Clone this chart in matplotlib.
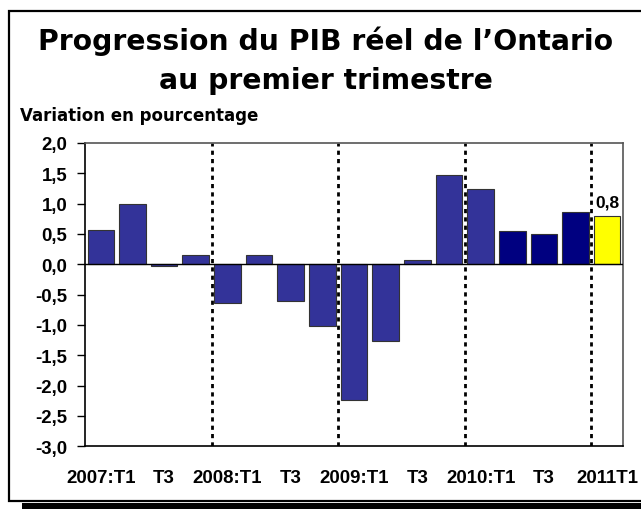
import numpy as np
import matplotlib.pyplot as plt
from matplotlib.patches import Rectangle

# Données (variation en pourcentage, trimestrielle)
trimestres = ['2007:T1', 'T2', 'T3', 'T4', '2008:T1', 'T2', 'T3', 'T4',
              '2009:T1', 'T2', 'T3', 'T4', '2010:T1', 'T2', 'T3', 'T4', '2011T1']
valeurs = [0.57, 0.99, -0.02, 0.15, -0.64, 0.15, -0.61, -1.02,
           -2.23, -1.26, 0.07, 1.48, 1.24, 0.55, 0.50, 0.86, 0.79]
couleurs = ['#333399'] * 13 + ['#000080'] * 3 + ['#FFFF00']
etiquette_finale = '0,8'
separateurs = [3.5, 7.5, 11.5, 15.5]
yticks = np.arange(-3.0, 2.01, 0.5)

police = 'Liberation Sans'
police_titre = 'DejaVu Sans'

fig = plt.figure(figsize=(6.41, 5.10), dpi=100)

# Cadre avec ombre
fig.patches.append(Rectangle((22 / 641, 0), 1, 6 / 510, transform=fig.transFigure,
                             facecolor='black', edgecolor='none', zorder=-2))
fig.patches.append(Rectangle((9 / 641, 8 / 510), 1, 490 / 510, transform=fig.transFigure,
                             facecolor='white', edgecolor='black', linewidth=1.6, zorder=-1))

ax = fig.add_axes([85 / 641, 62.7 / 510, 538 / 641, 303.3 / 510])
x = np.arange(len(valeurs))
ax.bar(x, valeurs, width=0.84, color=couleurs, edgecolor='#333333', linewidth=0.8, zorder=3)
ax.axhline(0, color='black', linewidth=1.0, zorder=4)
for s in separateurs:
    ax.axvline(s, color='black', linestyle=(0, (1.5, 1.5)), linewidth=2.0, zorder=2)

ax.text(x[-1], valeurs[-1] + 0.12, etiquette_finale, ha='center', va='bottom',
        fontsize=12.5, fontweight='bold', family=police)

ax.set_xlim(-0.5, len(valeurs) - 0.5)
ax.set_ylim(-3.0, 2.0)
ax.set_yticks(yticks)
ax.set_yticklabels([f'{v:.1f}'.replace('.', ',') for v in yticks],
                   fontsize=13.4, fontweight='bold', family=police)
ax.set_xticks(x[::2])
ax.set_xticklabels(trimestres[::2], fontsize=13.4, fontweight='bold', family=police)
ax.tick_params(axis='y', direction='out', length=5.8, width=1, pad=7)
ax.tick_params(axis='x', length=0, pad=16)

ax.spines['left'].set_color('black')
ax.spines['bottom'].set_color('black')
ax.spines['top'].set_color('#555555')
ax.spines['right'].set_color('#555555')
for sp in ax.spines.values():
    sp.set_linewidth(1.2)

# Titres
fig.text(326 / 641, 1 - 50 / 510, "Progression du PIB réel de l’Ontario",
         ha='center', va='baseline', fontsize=20.3, fontweight='bold', family=police_titre)
fig.text(326 / 641, 1 - 89 / 510, 'au premier trimestre',
         ha='center', va='baseline', fontsize=20.3, fontweight='bold', family=police_titre)
fig.text(20 / 641, 1 - 121 / 510, 'Variation en pourcentage',
         ha='left', va='baseline', fontsize=12, fontweight='bold', family=police_titre)

fig.savefig('out.png', dpi=100)
